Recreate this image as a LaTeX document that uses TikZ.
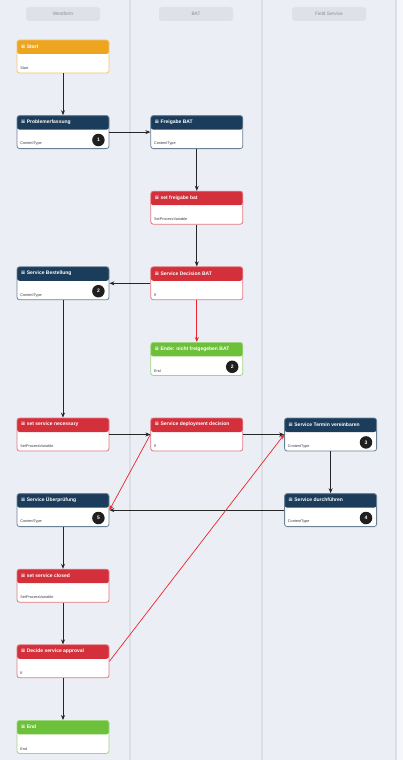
\documentclass[tikz,border=0pt]{standalone}
\usepackage{fontspec}
\setmainfont{Liberation Sans}
\newfontfamily\symfont{DejaVu Sans}
\usepackage{tikz}
\usetikzlibrary{positioning, arrows.meta}
\usepackage{xcolor}

\definecolor{lanebg}{HTML}{ECEEF5}
\definecolor{laneline}{HTML}{DCDEE6}
\definecolor{pillbg}{HTML}{DFE1E8}
\definecolor{pilltext}{HTML}{8A8E98}
\definecolor{startcol}{HTML}{EDA520}
\definecolor{taskcol}{HTML}{1B3D5B}
\definecolor{scriptcol}{HTML}{D3303B}
\definecolor{endcol}{HTML}{6CC03A}
\definecolor{flowred}{HTML}{E8262B}
\definecolor{bodytxt}{HTML}{3A3F48}

\newcommand{\menuicon}{{\symfont\fontsize{5.5}{6}\selectfont ≡}}

\tikzset{
  task/.style={rectangle, draw=#1!65, line width=0.8pt, rounded corners=2.5pt,
    fill=white, minimum width=92pt, minimum height=33pt, inner sep=0pt,
    path picture={\fill[#1] (path picture bounding box.north west)
      rectangle ([yshift=-14pt]path picture bounding box.north east);}},
  hdr/.style={label={[hdrtext]north west:{\menuicon\ #1}}},
  body/.style={label={[bodytext]south west:{#1}}},
  badge/.style={label={[badgetext]south east:{#1}}},
  hdrtext/.style={anchor=west, xshift=3.5pt, yshift=-7pt, text=white,
    inner sep=0.5pt, font=\bfseries\fontsize{5}{6}\selectfont},
  bodytext/.style={anchor=west, xshift=3pt, yshift=5pt, text=bodytxt,
    inner sep=0.5pt, font=\fontsize{3.8}{4.5}\selectfont},
  badgetext/.style={circle, fill=black!88, text=white, minimum size=12.5pt,
    inner sep=0pt, anchor=center, xshift=-11pt, yshift=9pt,
    font=\bfseries\fontsize{5}{6}\selectfont},
  lanehead/.style={rectangle, fill=pillbg, rounded corners=3pt,
    minimum width=74pt, minimum height=14pt, text=pilltext,
    font=\fontsize{4.8}{5.5}\selectfont},
  flow/.style={draw=black!85, line width=0.8pt, -{Stealth[length=5pt, width=4pt]}},
  redflow/.style={draw=flowred, line width=0.7pt, -{Stealth[length=5pt, width=4pt]}}
}

\begin{document}
\begin{tikzpicture}[x=1pt, y=1pt, node distance=41.8pt and 41pt]

% lanes
\fill[lanebg] (0,0) rectangle (403,-760);
\fill[lanebg!50!white] (396,0) rectangle (403,-760);
\useasboundingbox (0,0) rectangle (403,-760);
\draw[laneline, line width=1.5pt] (130,0) -- (130,-760);
\draw[laneline, line width=1.5pt] (262,0) -- (262,-760);
\draw[laneline, line width=1.5pt] (396,0) -- (396,-760);

\node[lanehead] (lwest) at (63,-14) {Westform};
\node[lanehead] (lbat) at (196,-14) {BAT};
\node[lanehead] (lfield) at (329,-14) {Field Service};

% Westform / BAT / Field Service steps
\node[task=startcol, hdr={Start}, body={Start}] (start) at (63,-56.5) {};
\node[task=taskcol, hdr={Problemerfassung}, body={ContentType}, badge={1}, below=of start] (prob) {};
\node[task=taskcol, hdr={Freigabe BAT}, body={ContentType}, right=of prob] (frei) {};
\node[task=scriptcol, hdr={set freigabe bat}, body={SetProcessVariable}, below=of frei] (setfrei) {};
\node[task=scriptcol, hdr={Service Decision BAT}, body={If}, below=of setfrei] (decbat) {};
\node[task=taskcol, hdr={Service Bestellung}, body={ContentType}, badge={2}, left=of decbat] (bestell) {};
\node[task=endcol, hdr={Ende: nicht freigegeben BAT}, body={End}, badge={2}, below=of decbat] (ende) {};
\node[task=scriptcol, hdr={Service deployment decision}, body={If}, below=of ende] (deploy) {};
\node[task=scriptcol, hdr={set service necessary}, body={SetProcessVariable}, left=of deploy] (setnec) {};
\node[task=taskcol, hdr={Service Termin vereinbaren}, body={ContentType}, badge={3}, right=of deploy] (termin) {};
\node[task=taskcol, hdr={Service durchführen}, body={ContentType}, badge={4}, below=of termin] (durch) {};
\node[task=taskcol, hdr={Service Überprüfung}, body={ContentType}, badge={5}, below=of setnec] (check) {};
\node[task=scriptcol, hdr={set service closed}, body={SetProcessVariable}, below=of check] (setclosed) {};
\node[task=scriptcol, hdr={Decide service approval}, body={If}, below=of setclosed] (approve) {};
\node[task=endcol, hdr={End}, body={End}, below=of approve] (finish) {};

% connectors
\draw[flow] (start) -- (prob);
\draw[flow] (prob) -- (frei);
\draw[flow] (frei) -- (setfrei);
\draw[flow] (setfrei) -- (decbat);
\draw[flow] (decbat) -- (bestell);
\draw[redflow] (decbat) -- (ende);
\draw[flow] (bestell) -- (setnec);
\draw[flow] (setnec) -- (deploy);
\draw[flow] (deploy) -- (termin);
\draw[redflow] (deploy.west) -- (check.east);
\draw[flow] (termin) -- (durch);
\draw[flow] (durch) -- (check);
\draw[flow] (check) -- (setclosed);
\draw[flow] (setclosed) -- (approve);
\draw[flow] (approve) -- (finish);
\draw[redflow] (approve.east) -- (termin.west);

\end{tikzpicture}
\end{document}
